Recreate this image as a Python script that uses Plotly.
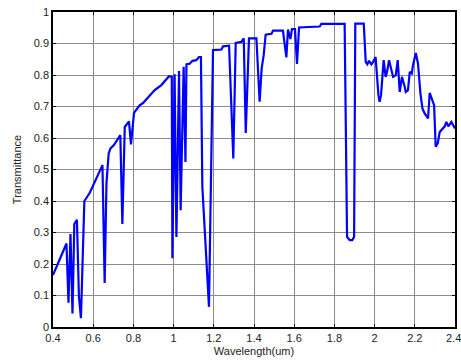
import plotly.graph_objects as go

wavelength = [0.400, 0.467, 0.477, 0.487, 0.497, 0.506, 0.519, 0.529, 0.539, 0.556,
              0.583, 0.646, 0.657, 0.666, 0.677, 0.686, 0.702, 0.715, 0.735, 0.745,
              0.757, 0.778, 0.788, 0.803, 0.831, 0.848, 0.878, 0.906, 0.939, 0.956,
              0.977, 0.991, 0.994, 1.005, 1.014, 1.027, 1.035, 1.050, 1.059, 1.064,
              1.080, 1.094, 1.113, 1.126, 1.136, 1.143, 1.176, 1.196, 1.238, 1.246,
              1.276, 1.297, 1.309, 1.337, 1.349, 1.359, 1.375, 1.412, 1.428, 1.438,
              1.448, 1.458, 1.487, 1.495, 1.544, 1.561, 1.569, 1.581, 1.589, 1.604,
              1.614, 1.624, 1.727, 1.735, 1.851, 1.863, 1.876, 1.889, 1.898, 1.904,
              1.946, 1.956, 1.964, 1.972, 1.984, 1.992, 2.005, 2.019, 2.025, 2.032,
              2.045, 2.055, 2.062, 2.072, 2.084, 2.092, 2.105, 2.115, 2.125, 2.136,
              2.150, 2.155, 2.166, 2.175, 2.185, 2.191, 2.205, 2.216, 2.228, 2.238,
              2.249, 2.266, 2.274, 2.288, 2.296, 2.304, 2.314, 2.324, 2.337, 2.349,
              2.357, 2.367, 2.382, 2.390, 2.400]
transmittance = [0.165, 0.265, 0.077, 0.295, 0.043, 0.327, 0.340, 0.096, 0.028, 0.400,
                 0.426, 0.514, 0.140, 0.456, 0.551, 0.567, 0.577, 0.591, 0.609, 0.327,
                 0.635, 0.653, 0.580, 0.680, 0.704, 0.711, 0.733, 0.752, 0.768, 0.781,
                 0.796, 0.794, 0.218, 0.802, 0.286, 0.813, 0.371, 0.826, 0.524, 0.834,
                 0.836, 0.845, 0.847, 0.857, 0.857, 0.445, 0.064, 0.879, 0.881, 0.891,
                 0.893, 0.535, 0.902, 0.905, 0.916, 0.616, 0.916, 0.916, 0.715, 0.820,
                 0.862, 0.928, 0.931, 0.941, 0.941, 0.856, 0.944, 0.914, 0.946, 0.946,
                 0.835, 0.951, 0.954, 0.962, 0.962, 0.286, 0.276, 0.276, 0.286, 0.963,
                 0.963, 0.841, 0.834, 0.845, 0.834, 0.841, 0.857, 0.736, 0.715, 0.736,
                 0.847, 0.794, 0.810, 0.847, 0.820, 0.794, 0.799, 0.847, 0.746, 0.794,
                 0.762, 0.746, 0.752, 0.810, 0.805, 0.831, 0.870, 0.836, 0.741, 0.694,
                 0.678, 0.662, 0.743, 0.718, 0.704, 0.572, 0.583, 0.619, 0.630, 0.637,
                 0.651, 0.637, 0.651, 0.641, 0.630]

x_ticks = [0.4, 0.6, 0.8, 1.0, 1.2, 1.4, 1.6, 1.8, 2.0, 2.2, 2.4]
x_tick_labels = ["0.4", "0.6", "0.8", "1", "1.2", "1.4", "1.6", "1.8", "2", "2.2", "2.4"]
y_ticks = [0, 0.1, 0.2, 0.3, 0.4, 0.5, 0.6, 0.7, 0.8, 0.9, 1.0]
y_tick_labels = ["0", "0.1", "0.2", "0.3", "0.4", "0.5", "0.6", "0.7", "0.8", "0.9", "1"]

fig = go.Figure()
fig.add_trace(go.Scatter(x=wavelength, y=transmittance, mode="lines",
                         line=dict(color="#0000ff", width=2.2), showlegend=False))

font = dict(family="Liberation Sans, Arial, sans-serif", size=11, color="#222")
axis_common = dict(showline=True, linecolor="black", linewidth=1.5, mirror="ticks",
                   ticks="inside", ticklen=3, tickcolor="black",
                   showgrid=True, gridcolor="#8c8c8c", gridwidth=1,
                   zeroline=False, tickfont=font, automargin=False)
# the last x tick label sits at the right edge; plotly would hide it, so draw it as an annotation
fig.update_xaxes(range=[0.4, 2.4], tickvals=x_ticks, ticktext=x_tick_labels[:-1] + [""],
                 title=dict(text="Wavelength(um)", font=font, standoff=4), **axis_common)
fig.update_yaxes(range=[0, 1], tickvals=y_ticks, ticktext=y_tick_labels,
                 title=dict(text="Transmittance", font=font, standoff=10), **axis_common)
fig.add_annotation(x=x_ticks[-1], y=0, xref="x", yref="paper", text=x_tick_labels[-1],
                   showarrow=False, yanchor="top", xanchor="center", yshift=-3, xshift=-2,
                   font=font)
fig.update_layout(width=461, height=364, margin=dict(l=53, r=6, t=12, b=37),
                  plot_bgcolor="white", paper_bgcolor="white", font=font)
fig.write_html("out.html", config={"displayModeBar": False},
               post_script="document.body.style.margin='0';document.body.style.overflow='hidden';")
